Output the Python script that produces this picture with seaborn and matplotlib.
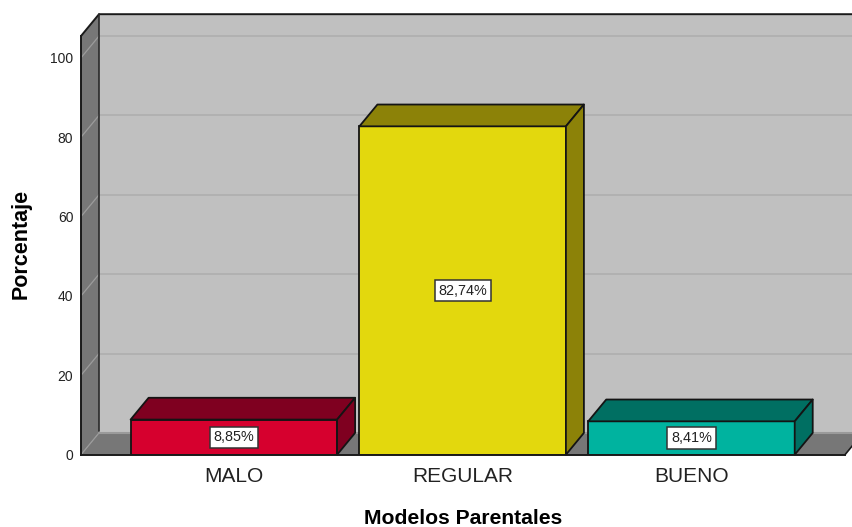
import matplotlib
matplotlib.use("Agg")
import matplotlib.pyplot as plt
from matplotlib.patches import Polygon
import seaborn as sns

categories = ["MALO", "REGULAR", "BUENO"]
values = [8.85, 82.74, 8.41]
value_labels = ["8,85%", "82,74%", "8,41%"]
front_colors = ["#D6002E", "#E3D80D", "#00B39F"]
shade_colors = ["#7F0020", "#8C8208", "#006F62"]
y_ticks = [0, 20, 40, 60, 80, 100]

sns.set_style("white")
plt.rcParams["font.family"] = ["Liberation Sans", "DejaVu Sans"]

W, H = 853, 527
fig = plt.figure(figsize=(W / 100, H / 100), dpi=100)
ax = fig.add_axes([81 / W, 1 - 454.7 / H, (845 - 81) / W, (454.7 - 36) / H])

sns.barplot(x=categories, y=values, hue=categories, palette=front_colors, width=0.9025,
            dodge=False, legend=False, edgecolor="#141414", linewidth=1.3, saturation=1, ax=ax)
xlo, xhi = -0.668, 2.671
ylo, yhi = 0, 105.5
ax.set_xlim(xlo, xhi)
ax.set_ylim(ylo, yhi)
ax.patch.set_visible(False)

# depth of the pseudo 3D projection, in data units
dx = 18 / (764 / (xhi - xlo))
dy = 21.8 / (418.7 / (yhi - ylo))

def poly(pts, fc, ec="none", lw=0, z=0.5):
    ax.add_patch(Polygon(pts, closed=True, facecolor=fc, edgecolor=ec, linewidth=lw,
                         zorder=z, clip_on=False, joinstyle="round"))

def line(xs, ys, c, lw=1.2, z=0.7):
    ax.plot(xs, ys, color=c, lw=lw, zorder=z, clip_on=False, solid_capstyle="round")

bars = sorted([p for p in ax.patches if p.get_height() > 0], key=lambda p: p.get_x())

wall = "#C0C0C0"
dark = "#777777"
poly([(xlo + dx, ylo + dy), (xhi + dx, ylo + dy), (xhi + dx, yhi + dy), (xlo + dx, yhi + dy)], wall)
poly([(xlo, ylo), (xlo + dx, ylo + dy), (xlo + dx, yhi + dy), (xlo, yhi)], dark)
poly([(xlo, ylo), (xhi, ylo), (xhi + dx, ylo + dy), (xlo + dx, ylo + dy)], dark)

for t in y_ticks:
    line([xlo, xlo + dx], [t, t + dy], "#9C9C9C", 0.9, 0.6)
    if t > 0:
        line([xlo + dx, xhi + dx], [t + dy, t + dy], "#B0B0B0", 1.3, 0.6)
line([xlo + dx, xhi + dx], [ylo + dy, ylo + dy], "#9A9A9A", 1.5, 0.6)

edge = "#1A1A1A"
line([xlo, xlo + dx, xhi + dx], [yhi, yhi + dy, yhi + dy], edge, 1.4)
line([xlo + dx, xlo + dx], [ylo + dy + 0.4, yhi + dy], "#2A2A2A", 1.2)
line([xhi, xhi + dx], [ylo, ylo + dy], edge, 1.2)

for bar, shade, text in zip(bars, shade_colors, value_labels):
    x0, y0 = bar.get_x(), bar.get_y()
    x1, y1 = x0 + bar.get_width(), y0 + bar.get_height()
    poly([(x0, y1), (x1, y1), (x1 + dx, y1 + dy), (x0 + dx, y1 + dy)], shade, "#141414", 1.3, 1.5)
    poly([(x1, y0), (x1 + dx, y0 + dy), (x1 + dx, y1 + dy), (x1, y1)], shade, "#141414", 1.3, 1.5)
    ax.text((x0 + x1) / 2, (y0 + y1) / 2, text, ha="center", va="center", fontsize=10.4,
            color="#222222", zorder=6,
            bbox=dict(boxstyle="square,pad=0.25", facecolor="white", edgecolor="#333333", linewidth=1.1))

sns.despine(ax=ax, top=True, right=True)
for s in ("left", "bottom"):
    ax.spines[s].set_color(edge)
    ax.spines[s].set_linewidth(1.4)
    ax.spines[s].set_zorder(3)

ax.set_yticks(y_ticks)
ax.tick_params(axis="y", length=0, pad=5.5, labelsize=10, labelcolor="#222222")
ax.tick_params(axis="x", length=0, pad=8.5, labelsize=15, labelcolor="#222222")
ax.set_xlabel("Modelos Parentales", fontsize=15.2, fontweight="bold", color="black", labelpad=17)
ax.set_ylabel("Porcentaje", fontsize=15.5, fontweight="bold", color="black")
ax.yaxis.set_label_coords(-49 / 764, 0.5025)

fig.savefig("out.png", dpi=100, facecolor="white")
